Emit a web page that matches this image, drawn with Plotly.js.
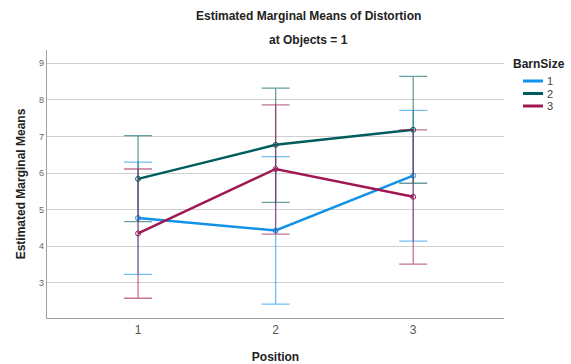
<!DOCTYPE html>
<html><head><meta charset="utf-8">
<script src="https://cdn.plot.ly/plotly-3.0.1.min.js"></script>
<style>html,body{margin:0;padding:0;background:#fff}</style>
</head><body>
<div id="chart" style="width:571px;height:364px"></div>
<script>
var positions = [1, 2, 3];
var seriesNames = ["1", "2", "3"];
var means1 = [4.77, 4.43, 5.93];
var upper1 = [6.30, 6.45, 7.71];
var lower1 = [3.23, 2.42, 4.14];
var means2 = [5.84, 6.77, 7.18];
var upper2 = [7.02, 8.32, 8.64];
var lower2 = [4.67, 5.20, 5.72];
var means3 = [4.35, 6.11, 5.35];
var upper3 = [6.11, 7.86, 7.18];
var lower3 = [2.58, 4.33, 3.51];
var yTicks = [3, 4, 5, 6, 7, 8, 9];

var colors = ["#1192e8", "#005d5d", "#9f1853"];
var errColors = ["rgba(17,146,232,0.6)", "rgba(0,93,93,0.6)", "rgba(159,24,83,0.6)"];
var allMeans = [means1, means2, means3];
var allUp = [upper1, upper2, upper3];
var allLo = [lower1, lower2, lower3];

var traces = allMeans.map(function(m, i){
  return {
    type: "scatter", mode: "lines+markers", name: seriesNames[i], showlegend: false,
    x: positions, y: m,
    line: {color: colors[i], width: 2.5},
    marker: {symbol: "circle-open", size: 5, color: colors[i], line: {width: 1}},
    error_y: {
      type: "data", symmetric: false,
      array: m.map(function(v, k){ return allUp[i][k] - v; }),
      arrayminus: m.map(function(v, k){ return v - allLo[i][k]; }),
      color: errColors[i], thickness: 1.3, width: 14
    }
  };
});

// legend drawn as paper-positioned shapes/annotations
var L = 47, W = 457, B = 318, H = 268;
function px(x){ return (x - L) / W; }
function py(y){ return (B - y) / H; }
var shapes = [], annotations = [];
annotations.push({text: "<b>BarnSize</b>", xref: "paper", yref: "paper", x: px(511), y: py(64),
  xanchor: "left", yanchor: "middle", showarrow: false, font: {size: 12, color: "#222"}});
seriesNames.forEach(function(n, i){
  var yy = 81 + i * 12.5;
  shapes.push({type: "line", xref: "paper", yref: "paper", x0: px(523), x1: px(543), y0: py(yy), y1: py(yy),
    line: {color: colors[i], width: 3}});
  annotations.push({text: n, xref: "paper", yref: "paper", x: px(545), y: py(yy),
    xanchor: "left", yanchor: "middle", showarrow: false, font: {size: 11, color: "#444"}});
});
annotations.push({text: "<b>Estimated Marginal Means of Distortion</b>", xref: "paper", yref: "paper",
  x: px(308), y: py(16), xanchor: "center", yanchor: "middle", showarrow: false,
  font: {size: 12, color: "#222"}});
annotations.push({text: "<b>at Objects = 1</b>", xref: "paper", yref: "paper",
  x: px(308), y: py(40), xanchor: "center", yanchor: "middle", showarrow: false,
  font: {size: 12, color: "#222"}});

var layout = {
  width: 571, height: 364,
  margin: {l: 47, r: 67, t: 50, b: 46},
  paper_bgcolor: "#fff", plot_bgcolor: "#fff",
  font: {family: "Liberation Sans, Arial, sans-serif", color: "#222"},
  showlegend: false,
  xaxis: {
    range: [0.338, 3.66], tickvals: positions, ticktext: ["1", "2", "3"],
    showgrid: false, zeroline: false, showline: true, linecolor: "#a0a0a0", linewidth: 1.3,
    ticks: "", tickfont: {size: 12, color: "#555"},
    title: {text: "<b>Position</b>", font: {size: 12, color: "#222"}, standoff: 17}
  },
  yaxis: {
    range: [2.04, 9.36], tickvals: yTicks,
    showgrid: true, gridcolor: "#d0d0d0", gridwidth: 1, zeroline: false,
    showline: true, linecolor: "#a0a0a0", linewidth: 1.3,
    ticks: "", tickfont: {size: 9, color: "#666"},
    title: {text: "<b>Estimated Marginal Means</b>", font: {size: 12, color: "#222"}, standoff: 10}
  },
  shapes: shapes,
  annotations: annotations
};

Plotly.newPlot("chart", traces, layout, {displayModeBar: false, staticPlot: true});
</script>
</body></html>
